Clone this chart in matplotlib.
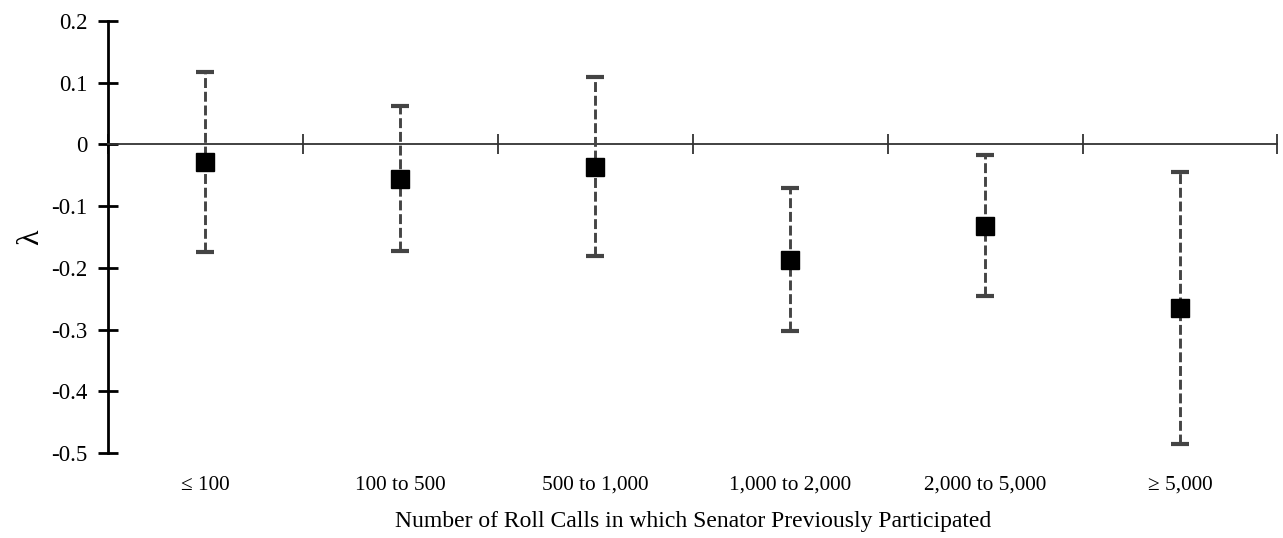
import matplotlib
matplotlib.use("Agg")
import matplotlib.pyplot as plt
import matplotlib.transforms as mtransforms
from matplotlib.ticker import FuncFormatter
import numpy as np

categories = ["\u2264 100", "100 to 500", "500 to 1,000", "1,000 to 2,000", "2,000 to 5,000", "\u2265 5,000"]
estimates = [-0.029, -0.056, -0.036, -0.188, -0.132, -0.265]
upper = [0.117, 0.062, 0.109, -0.070, -0.017, -0.045]
lower = [-0.175, -0.173, -0.181, -0.303, -0.246, -0.485]
y_ticks = [-0.5, -0.4, -0.3, -0.2, -0.1, 0, 0.1, 0.2]

plt.rcParams['font.family'] = ['Liberation Serif', 'DejaVu Serif']

fig = plt.figure(figsize=(12.83, 5.38), dpi=100)
ax = fig.add_axes([108/1283, 1-453/538, (1277.5-108)/1283, 432/538])

x = np.arange(len(categories))
est = np.array(estimates)
yerr = np.vstack([est - np.array(lower), np.array(upper) - est])

eb = ax.errorbar(x, est, yerr=yerr, fmt='s', color='black', markersize=12.5,
                 ecolor='#444444', elinewidth=2.1, capsize=6.5, capthick=3.0,
                 zorder=3)
for lc in eb[2]:
    lc.set_linestyle((0, (3.4, 1.3)))
for cap in eb[1]:
    cap.set_color('black')

ax.set_xlim(-0.5, len(categories) - 0.5)
ax.set_ylim(-0.5, 0.2)

ax.spines['top'].set_visible(False)
ax.spines['right'].set_visible(False)
ax.spines['bottom'].set_position(('data', 0))
ax.spines['bottom'].set_color('#333333')
ax.spines['bottom'].set_linewidth(1.3)
ax.spines['left'].set_color('black')
ax.spines['left'].set_linewidth(2.0)

ax.set_yticks(y_ticks)
ax.yaxis.set_major_formatter(FuncFormatter(lambda v, p: "0" if abs(v) < 1e-9 else ("%.1f" % v)))
ax.tick_params(axis='y', direction='inout', length=14, width=2.0, color='black',
               labelsize=16.5, pad=8)

ax.set_xticks(np.arange(len(categories) + 1) - 0.5)
ax.set_xticklabels([])
ax.tick_params(axis='x', direction='inout', length=14, width=1.3, color='#333333')

trans = mtransforms.blended_transform_factory(ax.transData, ax.transAxes)
for i, c in enumerate(categories):
    ax.text(i, -0.0856, c, transform=trans, ha='center', va='baseline', fontsize=15.3)

ax.text(0.5, -0.171, "Number of Roll Calls in which Senator Previously Participated",
        transform=ax.transAxes, ha='center', va='baseline', fontsize=17)

ax.set_ylabel("\u03bb", fontsize=23, labelpad=4)

fig.savefig("out.png", dpi=100)
